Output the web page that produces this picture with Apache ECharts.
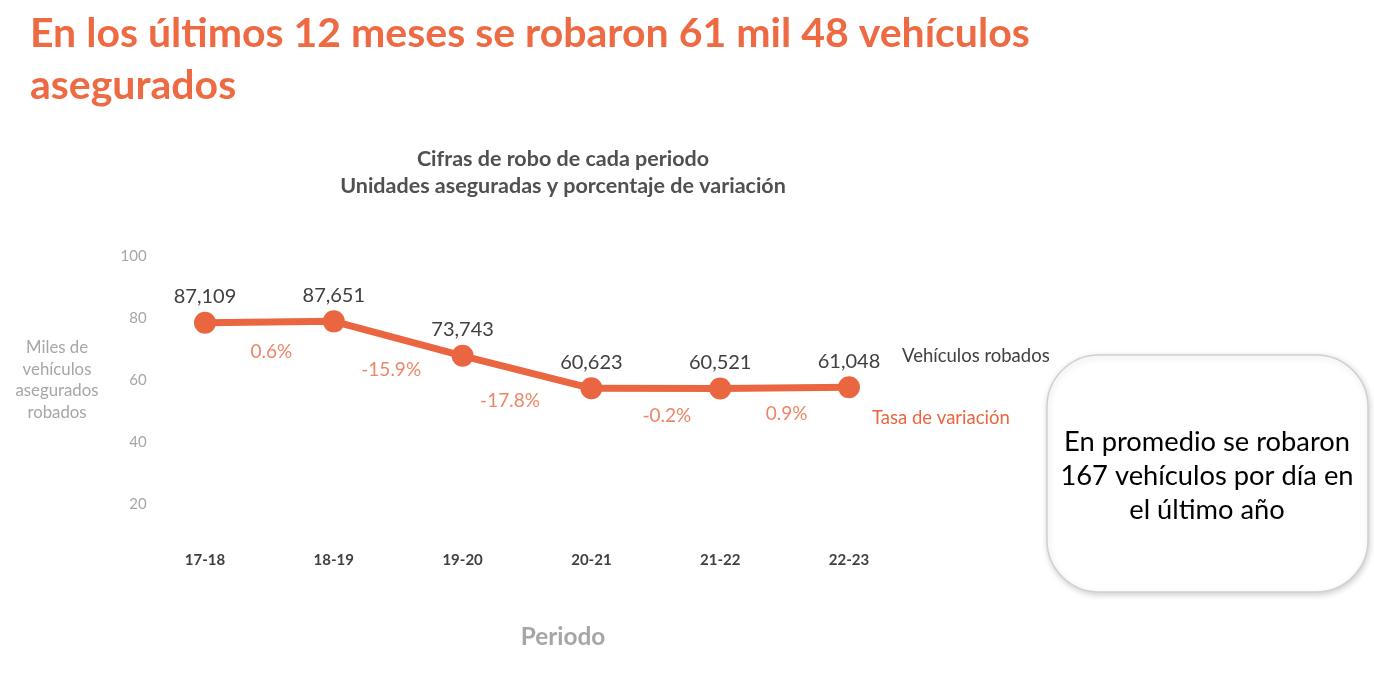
<!DOCTYPE html>
<html>
<head>
<meta charset="utf-8">
<script src="https://cdn.jsdelivr.net/npm/echarts@6/dist/echarts.min.js"></script>
<style>
  html, body { margin: 0; padding: 0; background: #ffffff; }
  #chart { width: 1374px; height: 674px; }
</style>
</head>
<body>
<div id="chart"></div>
<script>
// ---- Data ----
const categories = ['17-18', '18-19', '19-20', '20-21', '21-22', '22-23'];
const robados = [87109, 87651, 73743, 60623, 60521, 61048];
const variacion = [0.6, -15.9, -17.8, -0.2, 0.9];
const yTicks = { min: 0, max: 100, interval: 20 };

// ---- Layout / style constants ----
const ORANGE = '#EA6640';
const TITLE_ORANGE = '#EE6A43';
const DARK = '#404040';
const GRAY = '#A6A6A6';
const FONT = 'Lato, "Open Sans", sans-serif';
const labelNudge = [[2, 30], [-7, 31], [-17, 29], [11, 27], [2, 26]];

const chart = echarts.init(document.getElementById('chart'), null, { renderer: 'canvas' });

const varData = variacion.map((v, i) => ({
  value: [i + 0.5, (robados[i] + robados[i + 1]) / 2],
  label: { offset: labelNudge[i] }
}));

const option = {
  backgroundColor: '#ffffff',
  animation: false,
  textStyle: { fontFamily: FONT },
  title: {
    text: 'En los últimos 12 meses se robaron 61 mil 48 vehículos\nasegurados',
    left: 25,
    top: 3,
    textStyle: { fontFamily: FONT, fontSize: 41, fontWeight: 'bold', color: TITLE_ORANGE, lineHeight: 52 }
  },
  grid: { left: 140.6, right: 460.6, top: 255.7, bottom: 108, containLabel: false },
  xAxis: [
    {
      type: 'category',
      data: categories,
      boundaryGap: true,
      axisLine: { show: false },
      axisTick: { show: false },
      axisLabel: { margin: -13, color: DARK, fontSize: 15, fontWeight: 'bold', fontFamily: FONT }
    },
    { type: 'value', min: -0.5, max: 5.5, show: false }
  ],
  yAxis: [
    {
      type: 'value',
      min: yTicks.min, max: yTicks.max, interval: yTicks.interval,
      axisLine: { show: false },
      axisTick: { show: false },
      splitLine: { show: false },
      axisLabel: { margin: -6, showMinLabel: false, color: GRAY, fontSize: 15, fontFamily: FONT }
    },
    { type: 'value', min: -11110, max: 114160, show: false, splitLine: { show: false } }
  ],
  series: [
    {
      name: 'Vehículos robados',
      type: 'line',
      xAxisIndex: 0,
      yAxisIndex: 1,
      data: robados,
      symbol: 'circle',
      symbolSize: 22,
      itemStyle: { color: ORANGE },
      lineStyle: { color: ORANGE, width: 7 },
      label: {
        show: true,
        position: 'top',
        distance: 5,
        color: DARK,
        fontSize: 20,
        fontFamily: FONT,
        formatter: p => p.value.toLocaleString('en-US')
      },
      z: 3
    },
    {
      name: 'Tasa de variación',
      type: 'scatter',
      xAxisIndex: 1,
      yAxisIndex: 1,
      data: varData,
      symbolSize: 0,
      itemStyle: { color: 'transparent' },
      label: {
        show: true,
        position: 'inside',
        color: ORANGE,
        fontSize: 19,
        fontFamily: FONT,
        formatter: p => variacion[p.dataIndex].toFixed(1) + '%'
      },
      z: 4
    }
  ],
  graphic: [
    {
      type: 'text', x: 563, y: 173,
      style: {
        text: 'Cifras de robo de cada periodo\nUnidades aseguradas y porcentaje de variación',
        align: 'center', verticalAlign: 'middle',
        font: 'bold 21.5px ' + FONT, fill: '#505050', lineHeight: 27
      }
    },
    {
      type: 'text', x: 57, y: 380,
      style: {
        text: 'Miles de\nvehículos\nasegurados\nrobados',
        align: 'center', verticalAlign: 'middle', font: '16.8px ' + FONT, fill: GRAY, lineHeight: 21.5
      }
    },
    {
      type: 'text', x: 563, y: 637,
      style: { text: 'Periodo', align: 'center', verticalAlign: 'middle', font: 'bold 24.4px ' + FONT, fill: GRAY }
    },
    {
      type: 'text', x: 902, y: 356,
      style: { text: 'Vehículos robados', align: 'left', verticalAlign: 'middle', font: '18.5px ' + FONT, fill: DARK }
    },
    {
      type: 'text', x: 872, y: 418,
      style: { text: 'Tasa de variación', align: 'left', verticalAlign: 'middle', font: '18.5px ' + FONT, fill: ORANGE }
    },
    {
      type: 'rect',
      shape: { x: 1047, y: 355, width: 321, height: 237, r: 52 },
      style: { fill: '#ffffff', stroke: '#D0D0D0', lineWidth: 1.5, shadowBlur: 6, shadowColor: 'rgba(0,0,0,0.18)', shadowOffsetX: 1, shadowOffsetY: 2 },
      z: 1
    },
    {
      type: 'text', x: 1207, y: 476,
      style: {
        text: 'En promedio se robaron\n167 vehículos por día en\nel último año',
        align: 'center', verticalAlign: 'middle', font: '27.3px ' + FONT, fill: '#000000', lineHeight: 34.3
      },
      z: 2
    }
  ]
};

chart.setOption(option);
</script>
</body>
</html>
